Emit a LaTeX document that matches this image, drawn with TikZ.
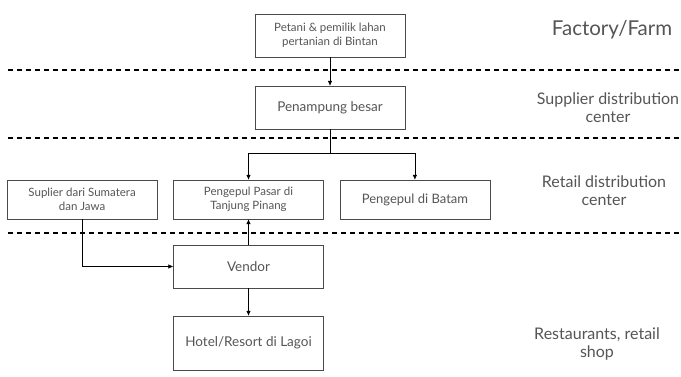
\documentclass[tikz,border=0pt]{standalone}
\usepackage{fontspec}
\setmainfont{Lato}
\usepackage{tikz}
\usetikzlibrary{positioning,arrows.meta}
\usepackage{xcolor}
\definecolor{boxline}{HTML}{4A4A4A}
\definecolor{boxtext}{HTML}{555555}

\begin{document}
\begin{tikzpicture}[
    x = 1pt, y = -1pt,
    > = {Latex[length=5pt,width=4.5pt]},
    semithick,
    stage/.style={draw=boxline, thin, text=boxtext, minimum width=150pt,
                  minimum height=43pt, align=center, font=\fontsize{11.5}{14}\selectfont},
    bigstage/.style={stage, font=\fontsize{13.5}{16}\selectfont},
    level/.style={text=boxtext, align=center, font=\fontsize{16}{18}\selectfont},
    divider/.style={line width=1.6pt, dash pattern=on 5pt off 4pt}
]
    \useasboundingbox (0,0) rectangle (681,377);

    % main chain
    \node[stage] (petani) at (330,35.5) {Petani \& pemilik lahan\\pertanian di Bintan};
    \node[bigstage] (penampung) at (330,107.5) {Penampung besar};
    \node[stage, minimum height=39pt] (pasar) at (248.5,199.5) {Pengepul Pasar di\\Tanjung Pinang};
    \node[stage, minimum height=39pt, left=16pt of pasar] (suplier) {Suplier dari Sumatera\\dan Jawa};
    \node[stage, minimum height=39pt, right=16pt of pasar, font=\fontsize{13}{15}\selectfont] (batam) {Pengepul di Batam};
    \node[bigstage] (vendor) at (248.5,266.5) {Vendor};
    \node[bigstage, minimum height=54pt] (hotel) at (248.5,343) {Hotel/Resort di Lagoi};

    % levels
    \node[level, font=\fontsize{20.5}{24}\selectfont] (farm) at (612,30) {Factory/Farm};
    \node[level] (supplier) at (608,108) {Supplier distribution\\center};
    \node[level] (retail) at (604,191) {Retail distribution\\center};
    \node[level] (shop) at (597,344) {Restaurants, retail\\shop};

    \coordinate (d1a) at (8,70);   \coordinate (d1b) at (681,70);
    \coordinate (d2a) at (8,138);  \coordinate (d2b) at (681,138);
    \coordinate (d3a) at (8,233);  \coordinate (d3b) at (681,233);
    \draw[divider] (d1a) -- (d1b);
    \draw[divider] (d2a) -- (d2b);
    \draw[divider] (d3a) -- (d3b);

    \coordinate (split) at (330,153);
    \draw[->] (petani) -- (penampung);
    \draw (penampung) -- (split);
    \draw[->] (split) -| (pasar);
    \draw[->] (split) -| (batam);
    \draw[->] (suplier) |- (vendor);
    \draw[->] (vendor) -- (pasar);
    \draw[->] (vendor) -- (hotel);
\end{tikzpicture}
\end{document}
